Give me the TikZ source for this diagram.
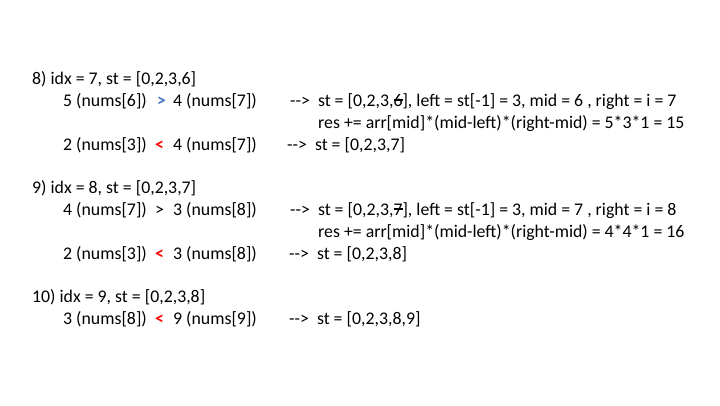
\documentclass[tikz,border=0pt]{standalone}
\usepackage{fontspec}
\setmainfont{Carlito}
\usepackage{tikz}
\usetikzlibrary{positioning}
\definecolor{gtblue}{RGB}{68,114,196}
\definecolor{ltred}{RGB}{255,0,0}
\newcommand{\struck}[1]{\rlap{\raisebox{0.3em}{\rule{0.52em}{0.08em}}}#1}

\begin{document}
\begin{tikzpicture}[x=1pt,y=-1pt,
  txt/.style={anchor=base west,inner sep=0pt,font=\fontsize{17.8}{21}\selectfont},
  op/.style={txt,font=\fontsize{17.8}{21}\selectfont\bfseries},
  gt/.style={op,text=gtblue},
  lt/.style={op,text=ltred}]
\useasboundingbox (0,0) rectangle (720,405);
% step 8
\node[txt] (h8) at (32,84) {8) idx = 7, st = [0,2,3,6]};
\node[txt] (a8) at (63,106) {5 (nums[6])};
\node[gt] (o8) at (157,106) {>};
\node[txt] (b8) at (173,106) {4 (nums[7])};
\node[txt] (r8) at (290,106) {-{}-{}>\ \ st = [0,2,3,\struck{6}], left = st[-1] = 3, mid = 6 , right = i = 7};
\node[txt] (s8) at (318,128) {res += arr[mid]*(mid-left)*(right-mid) = 5*3*1 = 15};
\node[txt] (c8) at (63,150) {2 (nums[3])};
\node[lt] (p8) at (155,150) {<};
\node[txt] (d8) at (173,150) {4 (nums[7])};
\node[txt] (t8) at (287,150) {-{}-{}>\ \ st = [0,2,3,7]};
% step 9
\node[txt] (h9) at (32,193) {9) idx = 8, st = [0,2,3,7]};
\node[txt] (a9) at (63,215) {4 (nums[7])};
\node[txt] (o9) at (155,215) {>};
\node[txt] (b9) at (173,215) {3 (nums[8])};
\node[txt] (r9) at (290,215) {-{}-{}>\ \ st = [0,2,3,\struck{7}], left = st[-1] = 3, mid = 7 , right = i = 8};
\node[txt] (s9) at (318,237) {res += arr[mid]*(mid-left)*(right-mid) = 4*4*1 = 16};
\node[txt] (c9) at (63,259) {2 (nums[3])};
\node[lt] (p9) at (155,259) {<};
\node[txt] (d9) at (173,259) {3 (nums[8])};
\node[txt] (t9) at (289,259) {-{}-{}>\ \ st = [0,2,3,8]};
% step 10
\node[txt] (h10) at (32,302) {10) idx = 9, st = [0,2,3,8]};
\node[txt] (a10) at (63,324) {3 (nums[8])};
\node[lt] (p10) at (155,324) {<};
\node[txt] (b10) at (173,324) {9 (nums[9])};
\node[txt] (t10) at (289,324) {-{}-{}>\ \ st = [0,2,3,8,9]};
\end{tikzpicture}
\end{document}
